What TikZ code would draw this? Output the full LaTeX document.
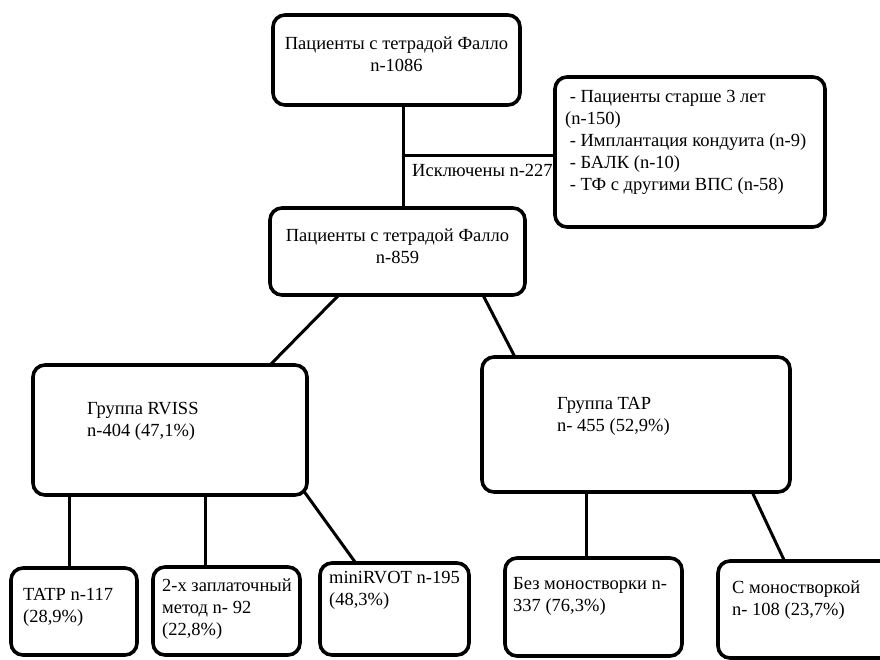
\documentclass[tikz,border=0pt]{standalone}
\usepackage{fontspec}
\setmainfont{Liberation Serif}
\usetikzlibrary{calc}

\tikzset{
 box/.style={draw, line width=3.6pt, rounded corners=12pt, inner sep=0pt, outer sep=0pt, anchor=north west},
 txt/.style={inner sep=0pt, align=left, anchor=north west, font=\fontsize{18.5}{22}\selectfont},
 ctr/.style={inner sep=0pt, align=center, anchor=north, font=\fontsize{18.5}{22}\selectfont},
 link/.style={line width=3pt}
}

\begin{document}
\begin{tikzpicture}[x=1pt, y=-1pt]
 \useasboundingbox (0,0) rectangle (880,659);
 % boxes
 \node[box, minimum width=247pt, minimum height=90pt, label={[ctr, yshift=-22pt]north:{Пациенты с тетрадой Фалло\\n-1086}}] (all) at (273,15) {};
 \node[box, minimum width=270pt, minimum height=150pt, label={[txt, xshift=10pt, yshift=-13pt]north west:{\ - Пациенты старше 3 лет\\(n-150)\\\ - Имплантация кондуита (n-9)\\\ - БАЛК (n-10)\\\ - ТФ с другими ВПС (n-58)}}] (excl) at (555,77) {};
 \node[box, minimum width=255pt, minimum height=87pt, label={[ctr, yshift=-21pt]north:{Пациенты с тетрадой Фалло\\n-859}}] (sel) at (270,208) {};
 \node[box, minimum width=274pt, minimum height=130pt, label={[txt, xshift=54pt, yshift=-37pt]north west:{Группа RVISS\\n-404 (47,1\%)}}] (rviss) at (33,365) {};
 \node[box, minimum width=308pt, minimum height=135pt, label={[txt, xshift=75pt, yshift=-40pt]north west:{Группа TAP\\n- 455 (52,9\%)}}] (tap) at (482,357) {};
 \node[box, minimum width=126pt, minimum height=87pt, label={[txt, xshift=12pt, yshift=-20pt]north west:{TATP n-117\\(28,9\%)}}] (tatp) at (11,568) {};
 \node[box, minimum width=147pt, minimum height=88pt, label={[txt, xshift=9pt, yshift=-12pt]north west:{2-х заплаточный\\метод n- 92\\(22,8\%)}}] (patch) at (153,567) {};
 \node[box, minimum width=149pt, minimum height=92pt, label={[txt, xshift=9pt, yshift=-8pt]north west:{miniRVOT n-195\\(48,3\%)}}] (mini) at (320,563) {};
 \node[box, minimum width=177pt, minimum height=98pt, label={[txt, xshift=8pt, yshift=-19pt]north west:{Без моностворки n-\\337 (76,3\%)}}] (nomono) at (505,558) {};
 \node[box, minimum width=175pt, minimum height=97pt, label={[txt, xshift=14pt, yshift=-20pt]north west:{С моностворкой\\n- 108 (23,7\%)}}] (mono) at (718,561) {};

 % exclusion branch
 \coordinate (cut) at (403,155);
 \draw[link] (all.south -| cut) -- (sel.north -| cut);
 \draw[link] (cut) -- (cut -| excl.west);
 \node[txt] (cutlbl) at ($(cut)+(9,9)$) {Исключены n-227};

 % groups
 \draw[link] ($(sel.south west)!.27!(sel.south east)$) -- ($(rviss.north west)!.865!(rviss.north east)$);
 \draw[link] ($(sel.south west)!.835!(sel.south east)$) -- ($(tap.north west)!.107!(tap.north east)$);

 % subgroups
 \coordinate (r1) at ($(rviss.south west)!.135!(rviss.south east)$);
 \coordinate (r2) at ($(rviss.south west)!.631!(rviss.south east)$);
 \coordinate (t1) at ($(tap.south west)!.338!(tap.south east)$);
 \draw[link] (r1) -- (r1 |- tatp.north);
 \draw[link] (r2) -- (r2 |- patch.north);
 \draw[link] ($(rviss.south east)+(-4,-5)$) -- ($(mini.north west)!.24!(mini.north east)$);
 \draw[link] (t1) -- (t1 |- nomono.north);
 \draw[link] ($(tap.south west)!.877!(tap.south east)$) -- ($(mono.north west)!.38!(mono.north east)$);
\end{tikzpicture}
\end{document}
